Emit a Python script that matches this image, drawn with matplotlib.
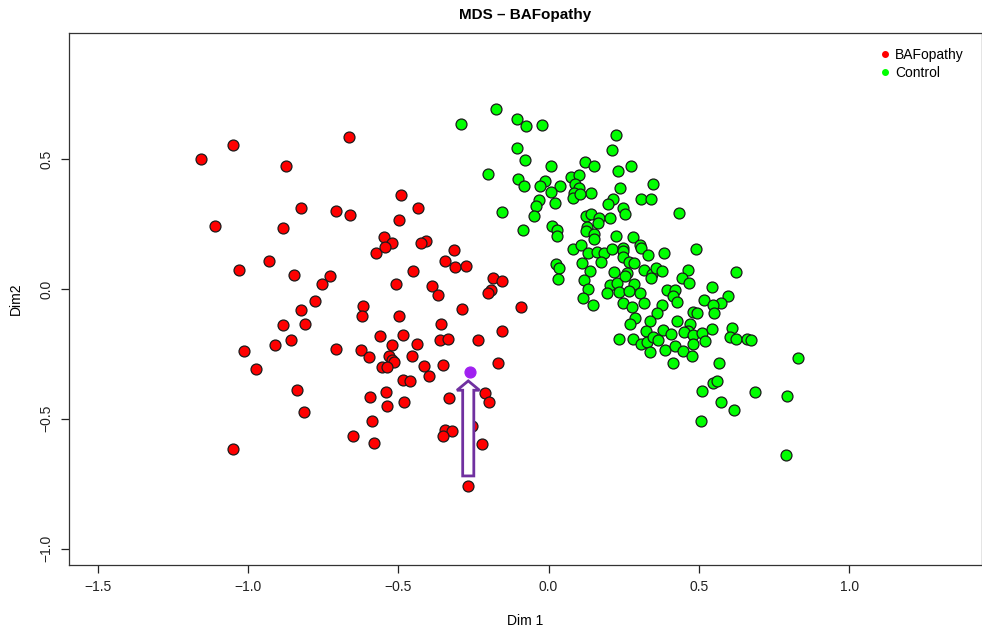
import matplotlib
matplotlib.use('Agg')
import matplotlib.pyplot as plt
import matplotlib.patches as mpatches
import numpy as np

plt.rcParams['font.family'] = ['Liberation Sans', 'DejaVu Sans']

# MDS coordinates
baf_x = [-0.664, -1.050, -1.156, -0.873, -0.823, -0.707, -0.660, -1.110, -0.883, -0.547,
         -0.574, -0.930, -1.030, -0.847, -0.727, -0.754, -0.777, -0.617, -0.823, -0.620,
         -0.883, -0.810, -0.561, -0.857, -0.910, -1.013, -0.707, -0.624, -0.597, -0.554,
         -0.973, -0.837, -0.594, -0.813, -0.587, -0.650, -0.581, -1.050, -0.491, -0.434,
         -0.497, -0.521, -0.544, -0.408, -0.424, -0.314, -0.344, -0.311, -0.274, -0.451,
         -0.507, -0.388, -0.368, -0.185, -0.155, -0.191, -0.201, -0.288, -0.091, -0.497,
         -0.358, -0.155, -0.484, -0.521, -0.437, -0.361, -0.334, -0.235, -0.531, -0.521,
         -0.514, -0.537, -0.454, -0.414, -0.351, -0.168, -0.398, -0.484, -0.461, -0.541,
         -0.537, -0.481, -0.331, -0.211, -0.198, -0.344, -0.321, -0.351, -0.254, -0.221,
         -0.268]
baf_y = [0.585, 0.555, 0.501, 0.474, 0.312, 0.300, 0.285, 0.243, 0.235, 0.200,
         0.139, 0.108, 0.073, 0.054, 0.050, 0.019, -0.046, -0.065, -0.081, -0.104,
         -0.139, -0.135, -0.181, -0.196, -0.216, -0.239, -0.231, -0.235, -0.262, -0.300,
         -0.308, -0.389, -0.416, -0.474, -0.508, -0.566, -0.593, -0.616, 0.362, 0.312,
         0.266, 0.177, 0.162, 0.185, 0.177, 0.150, 0.108, 0.085, 0.089, 0.069,
         0.019, 0.012, -0.023, 0.042, 0.031, -0.004, -0.015, -0.077, -0.069, -0.104,
         -0.135, -0.162, -0.177, -0.216, -0.212, -0.196, -0.193, -0.196, -0.258, -0.273,
         -0.281, -0.300, -0.258, -0.297, -0.293, -0.285, -0.335, -0.350, -0.354, -0.397,
         -0.451, -0.435, -0.420, -0.400, -0.435, -0.543, -0.547, -0.566, -0.528, -0.597,
         -0.759]

ctrl_x = [-0.175, -0.291, -0.105, -0.075, -0.022, 0.225, 0.211, -0.105, -0.078, 0.121,
          0.151, 0.008, -0.201, 0.231, -0.101, -0.082, -0.012, -0.028, 0.075, 0.101,
          0.088, 0.101, 0.085, 0.038, 0.008, 0.141, 0.082, 0.105, -0.032, -0.042,
          0.022, 0.215, 0.198, -0.155, -0.048, 0.125, 0.141, 0.168, 0.205, 0.165,
          0.128, 0.125, 0.151, 0.151, 0.012, 0.028, 0.028, -0.085, 0.225, 0.082,
          0.108, 0.131, 0.161, 0.185, 0.211, 0.175, 0.111, 0.025, 0.035, 0.138,
          0.218, 0.032, 0.118, 0.205, 0.228, 0.131, 0.274, 0.238, 0.348, 0.308,
          0.341, 0.248, 0.254, 0.434, 0.281, 0.304, 0.308, 0.248, 0.248, 0.491,
          0.331, 0.384, 0.248, 0.268, 0.284, 0.261, 0.254, 0.318, 0.344, 0.358,
          0.378, 0.341, 0.464, 0.444, 0.467, 0.544, 0.624, 0.235, 0.284, 0.268,
          0.304, 0.195, 0.394, 0.421, 0.414, 0.597, 0.517, 0.115, 0.148, 0.248,
          0.278, 0.318, 0.427, 0.574, 0.547, 0.551, 0.481, 0.494, 0.378, 0.361,
          0.288, 0.271, 0.338, 0.427, 0.324, 0.381, 0.408, 0.471, 0.464, 0.451,
          0.481, 0.511, 0.521, 0.544, 0.610, 0.604, 0.624, 0.660, 0.674, 0.235,
          0.281, 0.308, 0.328, 0.348, 0.364, 0.338, 0.388, 0.421, 0.447, 0.481,
          0.477, 0.414, 0.567, 0.830, 0.547, 0.561, 0.511, 0.687, 0.793, 0.574,
          0.617, 0.507, 0.790]
ctrl_y = [0.693, 0.635, 0.655, 0.628, 0.632, 0.593, 0.535, 0.543, 0.497, 0.489,
          0.474, 0.474, 0.443, 0.454, 0.424, 0.397, 0.416, 0.397, 0.431, 0.439,
          0.404, 0.389, 0.370, 0.397, 0.374, 0.370, 0.350, 0.366, 0.343, 0.320,
          0.331, 0.347, 0.327, 0.296, 0.281, 0.281, 0.289, 0.273, 0.273, 0.254,
          0.239, 0.223, 0.212, 0.193, 0.243, 0.227, 0.204, 0.227, 0.204, 0.154,
          0.169, 0.139, 0.142, 0.139, 0.154, 0.104, 0.100, 0.096, 0.081, 0.069,
          0.065, 0.039, 0.035, 0.015, 0.023, 0.000, 0.474, 0.389, 0.404, 0.347,
          0.347, 0.312, 0.289, 0.293, 0.200, 0.169, 0.158, 0.158, 0.146, 0.154,
          0.131, 0.139, 0.123, 0.104, 0.100, 0.062, 0.050, 0.073, 0.058, 0.081,
          0.069, 0.042, 0.073, 0.042, 0.023, 0.008, 0.065, -0.012, 0.019, -0.008,
          -0.015, -0.015, -0.004, -0.004, -0.027, -0.027, -0.042, -0.035, -0.062, -0.054,
          -0.069, -0.054, -0.050, -0.054, -0.062, -0.092, -0.089, -0.092, -0.062, -0.092,
          -0.112, -0.135, -0.123, -0.123, -0.162, -0.158, -0.173, -0.135, -0.162, -0.166,
          -0.177, -0.169, -0.200, -0.154, -0.150, -0.185, -0.193, -0.193, -0.196, -0.193,
          -0.193, -0.212, -0.204, -0.185, -0.196, -0.243, -0.235, -0.219, -0.239, -0.212,
          -0.258, -0.285, -0.285, -0.266, -0.362, -0.354, -0.393, -0.397, -0.412, -0.435,
          -0.466, -0.508, -0.639]

# highlighted sample
hl_x = [-0.261]
hl_y = [-0.320]

x_ticks = [-1.5, -1.0, -0.5, 0.0, 0.5, 1.0]
y_ticks = [-1.0, -0.5, 0.0, 0.5]

purple = '#A020F0'

def fmt(v):
    return ('%.1f' % v).replace('-', '\u2212')

fig = plt.figure(figsize=(9.82, 6.27), dpi=100, facecolor='white')
ax = fig.add_axes([0.0703, 0.0989, 0.9297, 0.8485])

ax.scatter(baf_x, baf_y, s=62, c='#FF0000', edgecolors='#1a1a1a', linewidths=0.9, zorder=3)
ax.scatter(ctrl_x, ctrl_y, s=62, c='#00FF00', edgecolors='#1a1a1a', linewidths=0.9, zorder=3)
ax.scatter(hl_x, hl_y, s=62, c=purple, edgecolors=purple, linewidths=0.9, zorder=4)

# hollow arrow pointing up at the highlighted sample
tip = hl_y[0] - 0.034
tail = hl_y[0] - 0.40
arr = mpatches.FancyArrow(hl_x[0] - 0.006, tail, 0, tip - tail, width=0.037,
                          head_width=0.075, head_length=0.036, length_includes_head=True,
                          fill=True, facecolor='white', edgecolor='#7030A0', linewidth=2, zorder=5)
ax.add_patch(arr)

ax.set_xlim(-1.595, 1.442)
ax.set_ylim(-1.063, 0.986)
ax.set_xticks(x_ticks)
ax.set_xticklabels([fmt(v) for v in x_ticks])
ax.set_yticks(y_ticks)
ax.set_yticklabels([fmt(v) for v in y_ticks], rotation=90, va='center')
ax.tick_params(direction='out', length=6, width=0.9, labelsize=10, pad=5, colors='#222222')
for s in ax.spines.values():
    s.set_linewidth(0.9)
    s.set_color('#333333')

ax.set_title('MDS \u2013 BAFopathy', fontsize=11, fontweight='bold', pad=10)
ax.set_xlabel('Dim 1', fontsize=10, labelpad=14)
ax.set_ylabel('Dim2', fontsize=10, labelpad=12)

h1 = plt.Line2D([], [], marker='o', color='#FF0000', ls='none', ms=4)
h2 = plt.Line2D([], [], marker='o', color='#00FF00', ls='none', ms=4)
ax.legend([h1, h2], ['BAFopathy', 'Control'], loc='upper left', bbox_to_anchor=(0.871, 0.995),
          frameon=False, fontsize=10, handletextpad=0.1, labelspacing=0.25, handlelength=1.2)

fig.savefig('out.png', dpi=100, facecolor='white')
